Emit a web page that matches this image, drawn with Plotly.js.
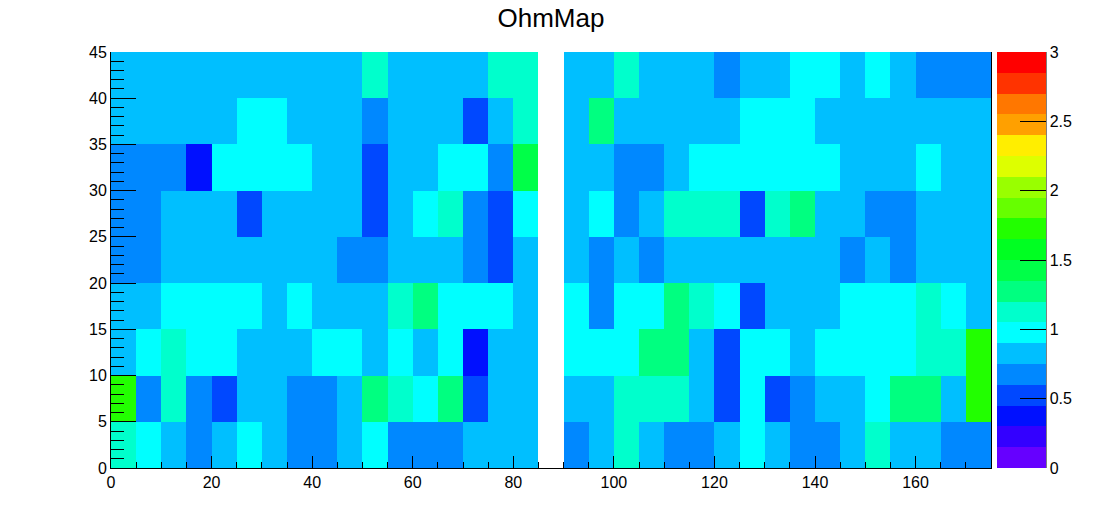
<!DOCTYPE html>
<html>
<head>
<meta charset="utf-8">
<script src="https://cdn.plot.ly/plotly-3.0.1.min.js"></script>
<style>html,body{margin:0;padding:0;background:#fff;}#chart{width:1102px;height:522px;}</style>
</head>
<body>
<div id="chart"></div>
<script>
// Bin centres (x: 35 bins of width 5 from 0 to 175; y: 9 bins of width 5 from 0 to 45)
const xCenters = [2.5,7.5,12.5,17.5,22.5,27.5,32.5,37.5,42.5,47.5,52.5,57.5,62.5,67.5,72.5,77.5,82.5,87.5,92.5,97.5,102.5,107.5,112.5,117.5,122.5,127.5,132.5,137.5,142.5,147.5,152.5,157.5,162.5,167.5,172.5];
const yCenters = [2.5,7.5,12.5,17.5,22.5,27.5,32.5,37.5,42.5];

// Cell values, one row per y bin (bottom to top)
const row0 = [1.125,0.975,0.825,0.675,0.825,0.975,0.825,0.675,0.675,0.825,0.975,0.675,0.675,0.675,0.825,0.825,0.825,null,0.675,0.825,1.125,0.825,0.675,0.675,0.825,0.975,0.825,0.675,0.675,0.825,1.125,0.825,0.825,0.675,0.675];
const row1 = [1.725,0.675,1.125,0.675,0.525,0.825,0.825,0.675,0.675,0.825,1.275,1.125,0.975,1.275,0.525,0.825,0.825,null,0.825,0.825,1.125,1.125,1.125,0.825,0.525,0.975,0.525,0.675,0.825,0.825,0.975,1.275,1.275,0.825,1.725];
const row2 = [0.825,0.975,1.125,0.975,0.975,0.825,0.825,0.825,0.975,0.975,0.825,0.975,0.825,0.975,0.375,0.825,0.825,null,0.975,0.975,0.975,1.275,1.275,0.825,0.525,0.975,0.975,0.825,0.975,0.975,0.975,0.975,1.125,1.125,1.725];
const row3 = [0.825,0.825,0.975,0.975,0.975,0.975,0.825,0.975,0.825,0.825,0.825,1.125,1.275,0.975,0.975,0.975,0.825,null,0.975,0.675,0.975,0.975,1.275,1.125,0.975,0.525,0.825,0.825,0.825,0.975,0.975,0.975,1.125,0.975,0.825];
const row4 = [0.675,0.675,0.825,0.825,0.825,0.825,0.825,0.825,0.825,0.675,0.675,0.825,0.825,0.825,0.675,0.525,0.825,null,0.825,0.675,0.825,0.675,0.825,0.825,0.825,0.825,0.825,0.825,0.825,0.675,0.825,0.675,0.825,0.825,0.825];
const row5 = [0.675,0.675,0.825,0.825,0.825,0.525,0.825,0.825,0.825,0.825,0.525,0.825,0.975,1.125,0.675,0.525,0.975,null,0.825,0.975,0.675,0.825,1.125,1.125,1.125,0.525,1.125,1.275,0.825,0.825,0.675,0.675,0.825,0.825,0.825];
const row6 = [0.675,0.675,0.675,0.375,0.975,0.975,0.975,0.975,0.825,0.825,0.525,0.825,0.825,0.975,0.975,0.675,1.425,null,0.825,0.825,0.675,0.675,0.825,0.975,0.975,0.975,0.975,0.975,0.975,0.825,0.825,0.825,0.975,0.825,0.825];
const row7 = [0.825,0.825,0.825,0.825,0.825,0.975,0.975,0.825,0.825,0.825,0.675,0.825,0.825,0.825,0.525,0.825,1.125,null,0.825,1.275,0.825,0.825,0.825,0.825,0.825,0.975,0.975,0.975,0.825,0.825,0.825,0.825,0.825,0.825,0.825];
const row8 = [0.825,0.825,0.825,0.825,0.825,0.825,0.825,0.825,0.825,0.825,1.125,0.825,0.825,0.825,0.825,1.125,1.125,null,0.825,0.825,1.125,0.825,0.825,0.825,0.675,0.825,0.825,0.975,0.975,0.825,0.975,0.825,0.675,0.675,0.675];

const colorTickVals = [0,0.5,1,1.5,2,2.5,3];
const colorTickText = ['0','0.5','1','1.5','2','2.5','3'];

// 20-level palette (bottom to top)
const palette = ['#6600ff','#3300ff','#0010ff','#0048ff','#0088ff','#00bfff','#00ffff','#00ffcc','#00ff80','#00ff48','#00ff22','#22ff00','#66ff00','#99ff00','#ddff00','#ffee00','#ffa000','#ff7700','#ff3300','#ff0000'];
const colorscale = [];
palette.forEach((c,i)=>{ colorscale.push([i/palette.length,c]); colorscale.push([(i+1)/palette.length,c]); });

const FONT = '"Liberation Sans", Arial, Helvetica, sans-serif';

const trace = {
  type: 'heatmap',
  x: xCenters,
  y: yCenters,
  z: [row0,row1,row2,row3,row4,row5,row6,row7,row8],
  zmin: 0, zmax: 3,
  zsmooth: false,
  colorscale: colorscale,
  hoverinfo: 'skip',
  xgap: 0, ygap: 0,
  colorbar: {
    x: 1.0068, xanchor: 'left', xpad: 0,
    y: 0.5, yanchor: 'middle', ypad: 0,
    len: 1, lenmode: 'fraction',
    thickness: 49, thicknessmode: 'pixels',
    outlinewidth: 0,
    tickmode: 'array', tickvals: colorTickVals, ticktext: colorTickText,
    ticks: 'inside', ticklen: 26, tickcolor: '#000', tickwidth: 1,
    ticklabelposition: 'outside',
    tickfont: {family: FONT, size: 16, color: '#000'}
  }
};

const layout = {
  width: 1102, height: 522,
  margin: {l: 111, r: 111, t: 52, b: 54, pad: 0, autoexpand: false},
  paper_bgcolor: '#fff', plot_bgcolor: '#fff',
  font: {family: FONT, size: 16, color: '#000'},
  title: {text: 'OhmMap', font: {family: FONT, size: 26, color: '#000'}, x: 0.5, xref: 'container', xanchor: 'center', y: 0.965, yref: 'container', yanchor: 'middle'},
  xaxis: {
    range: [0,175], tick0: 0, dtick: 20, showgrid: false, zeroline: false,
    showline: true, linecolor: '#000', linewidth: 1, mirror: false,
    ticks: 'inside', ticklen: 12, tickcolor: '#000',
    minor: {dtick: 5, tick0: 0, ticks: 'inside', ticklen: 6, tickcolor: '#000', showgrid: false},
    tickfont: {family: FONT, size: 16, color: '#000'}
  },
  yaxis: {
    range: [0,45], tick0: 0, dtick: 5, showgrid: false, zeroline: false,
    showline: true, linecolor: '#000', linewidth: 1, mirror: true,
    ticks: 'inside', ticklen: 25, tickcolor: '#000',
    minor: {dtick: 1, tick0: 0, ticks: 'inside', ticklen: 13, tickcolor: '#000', showgrid: false},
    tickfont: {family: FONT, size: 16, color: '#000'}
  },
  shapes: [
    {type: 'line', xref: 'paper', yref: 'paper', x0: 1.0625, x1: 1.0625, y0: 0, y1: 1, line: {color: '#000', width: 1}}
  ]
};

Plotly.newPlot('chart', [trace], layout, {displayModeBar: false, staticPlot: true});
</script>
</body>
</html>
